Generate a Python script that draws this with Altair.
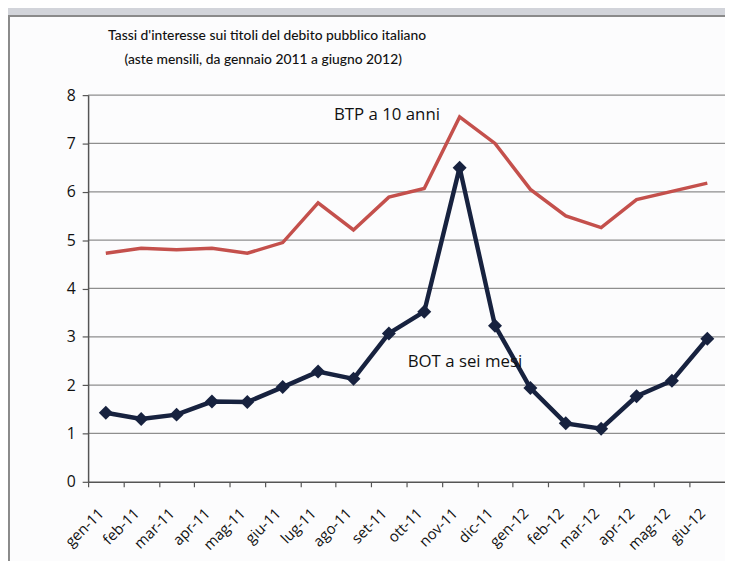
import altair as alt
import pandas as pd

months = ["gen-11", "feb-11", "mar-11", "apr-11", "mag-11", "giu-11", "lug-11", "ago-11",
          "set-11", "ott-11", "nov-11", "dic-11", "gen-12", "feb-12", "mar-12", "apr-12",
          "mag-12", "giu-12"]
bot = [1.43, 1.30, 1.39, 1.66, 1.65, 1.96, 2.28, 2.13, 3.07, 3.52, 6.50, 3.23, 1.94, 1.21,
       1.10, 1.77, 2.09, 2.96]
btp = [4.73, 4.83, 4.80, 4.83, 4.73, 4.95, 5.77, 5.21, 5.89, 6.07, 7.55, 7.00, 6.05, 5.50,
       5.26, 5.84, 6.01, 6.18]
y_ticks = [0, 1, 2, 3, 4, 5, 6, 7, 8]
grid_vals = [1, 2, 3, 4, 5, 6, 7, 8]
title_lines = ["Tassi d'interesse sui titoli del debito pubblico italiano",
               "(aste mensili, da gennaio 2011 a giugno 2012)"]
label_btp = "BTP a 10 anni"
label_bot = "BOT a sei mesi"

W, H = 644, 391
step = W / len(months)
FONT = "Open Sans"
TFONT = "Lato"

df = pd.DataFrame({"mese": months, "BOT": bot, "BTP": btp})

xs = alt.Scale(type="point", padding=0.5, domain=months)
ys = alt.Scale(domain=[0, 8], nice=False, zero=True)

x_enc = alt.X("mese:N", sort=months, scale=xs, title=None,
              axis=alt.Axis(labelAngle=-45, tickOffset=-step / 2, labelOffset=step / 2 - 10,
                            tickSize=5, tickColor="#555", tickWidth=1.2,
                            domainColor="#555", domainWidth=1.5, grid=False,
                            labelFont=FONT, labelFontSize=15, labelColor="#111",
                            labelPadding=19, zindex=1))
y_axis = alt.Axis(values=y_ticks, tickSize=6, tickColor="#555", tickWidth=1.2,
                  domainColor="#555", domainWidth=1.5, grid=False,
                  labelFont=FONT, labelFontSize=16, labelColor="#111",
                  labelPadding=7, title=None, zindex=1)

frame = alt.Chart(alt.Data(values=[{}])).mark_rect(
    fill="#fcfcfd", stroke="#8a8a8a", strokeWidth=2
).encode(x=alt.value(-80), x2=alt.value(W + 20), y=alt.value(-80), y2=alt.value(H + 100))

grid = alt.Chart(pd.DataFrame({"g": grid_vals})).mark_rule(
    color="#8e8e8e", strokeWidth=1.3
).encode(y=alt.Y("g:Q", scale=ys, axis=y_axis))

title1 = alt.Chart(alt.Data(values=[{}])).mark_text(
    text=title_lines[0], align="center", baseline="alphabetic", font=TFONT, fontSize=14,
    fontWeight=500, color="#111").encode(x=alt.value(181), y=alt.value(-56))
title2 = alt.Chart(alt.Data(values=[{}])).mark_text(
    text=title_lines[1], align="center", baseline="alphabetic", font=TFONT, fontSize=14,
    fontWeight=500, color="#111").encode(x=alt.value(177), y=alt.value(-31))

base = alt.Chart(df)
btp_line = base.mark_line(color="#c4504c", strokeWidth=3.5).encode(
    x=x_enc, y=alt.Y("BTP:Q", scale=ys))
bot_line = base.mark_line(color="#17223f", strokeWidth=4.5).encode(
    x=x_enc, y=alt.Y("BOT:Q", scale=ys))
bot_pts = base.mark_point(shape="diamond", filled=True, color="#17223f", size=200,
                          opacity=1).encode(x=x_enc, y=alt.Y("BOT:Q", scale=ys))

ann = alt.Chart(alt.Data(values=[{}]))
t_btp = ann.mark_text(text=label_btp, align="left", baseline="middle", dx=16,
                      font=FONT, fontSize=17, color="#111").encode(
    x=alt.datum("lug-11"), y=alt.datum(7.59))
t_bot = ann.mark_text(text=label_bot, align="left", baseline="middle", dx=19,
                      font=FONT, fontSize=17, color="#111").encode(
    x=alt.datum("set-11"), y=alt.datum(2.47))

chart = alt.layer(frame, title1, title2, grid, btp_line, bot_line, bot_pts, t_btp, t_bot).properties(
    width=W, height=H,
    autosize=alt.AutoSizeParams(type="none"),
    padding={"left": 81, "top": 85, "right": 0, "bottom": 80},
    background="#d2d4da",
).configure_view(stroke=None)

chart.save("out.html", embed_options={"renderer": "svg", "actions": False})
